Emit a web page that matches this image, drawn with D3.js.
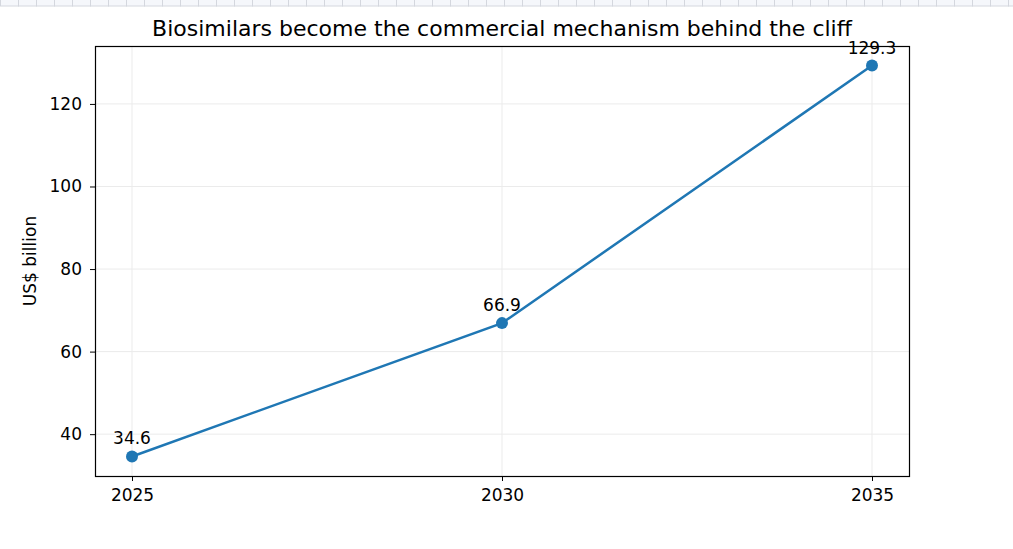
<!DOCTYPE html>
<html lang="en">
<head>
<meta charset="UTF-8">
<title>Biosimilars</title>
<script src="https://d3js.org/d3.v7.min.js"></script>
<style>
    body { margin: 0; background: #fff; }
    svg text { font-family: "DejaVu Sans", sans-serif; fill: #000; }
    .grid line { stroke: #ebebeb; stroke-width: 1px; }
</style>
</head>
<body>
<script>
    // chart data
    var years = [2025, 2030, 2035];
    var values = [34.6, 66.9, 129.3];
    var yTicks = [40, 60, 80, 100, 120];

    var width = 1013, height = 549;
    var m = { left: 95, right: 909, top: 46, bottom: 476 };

    var svg = d3.select("body").append("svg")
        .attr("width", width)
        .attr("height", height);

    // strip of cells along the top edge
    var cells = d3.range(0, width, 18);
    svg.selectAll(".cell")
        .data(cells)
        .enter()
        .append("rect")
        .attr("x", function (d) { return d + 0.5; })
        .attr("y", -1)
        .attr("width", 18)
        .attr("height", 7)
        .attr("fill", "#f5f7fb")
        .attr("stroke", "#d4d7de")
        .attr("stroke-width", 1);

    var pad = (years[2] - years[0]) * 0.05;
    var x = d3.scaleLinear()
        .domain([years[0] - pad, years[2] + pad])
        .range([m.left, m.right]);

    var span = d3.max(values) - d3.min(values);
    var y = d3.scaleLinear()
        .domain([d3.min(values) - span * 0.05, d3.max(values) + span * 0.05])
        .range([m.bottom, m.top]);

    // grid
    var grid = svg.append("g").attr("class", "grid");
    grid.selectAll(".gy")
        .data(yTicks)
        .enter()
        .append("line")
        .attr("x1", m.left).attr("x2", m.right)
        .attr("y1", function (d) { return y(d); })
        .attr("y2", function (d) { return y(d); });
    grid.selectAll(".gx")
        .data(years)
        .enter()
        .append("line")
        .attr("y1", m.top).attr("y2", m.bottom)
        .attr("x1", function (d) { return x(d); })
        .attr("x2", function (d) { return x(d); });

    // axes
    var xAxis = d3.axisBottom(x)
        .tickValues(years)
        .tickFormat(d3.format("d"))
        .tickSize(5)
        .tickPadding(8);
    var yAxis = d3.axisLeft(y)
        .tickValues(yTicks)
        .tickSize(5)
        .tickPadding(8);

    var gx = svg.append("g")
        .attr("transform", "translate(0," + m.bottom + ")")
        .call(xAxis);
    var gy = svg.append("g")
        .attr("transform", "translate(" + m.left + ",0)")
        .call(yAxis);
    [gx, gy].forEach(function (g) {
        g.select(".domain").remove();
        g.selectAll("text").style("font-size", "17px");
        g.selectAll("line").attr("stroke", "#000");
    });

    // frame
    svg.append("rect")
        .attr("x", m.left + 0.5).attr("y", m.top + 0.5)
        .attr("width", m.right - m.left).attr("height", m.bottom - m.top)
        .attr("fill", "none")
        .attr("stroke", "#000")
        .attr("stroke-width", 1.2);

    // line and markers
    var pts = years.map(function (d, i) { return [d, values[i]]; });
    var line = d3.line()
        .x(function (d) { return x(d[0]); })
        .y(function (d) { return y(d[1]); });

    svg.append("path")
        .datum(pts)
        .attr("d", line)
        .attr("fill", "none")
        .attr("stroke", "#1f77b4")
        .attr("stroke-width", 2.5);

    svg.selectAll(".dot")
        .data(pts)
        .enter()
        .append("circle")
        .attr("cx", function (d) { return x(d[0]); })
        .attr("cy", function (d) { return y(d[1]); })
        .attr("r", 6)
        .attr("fill", "#1f77b4");

    svg.selectAll(".lbl")
        .data(pts)
        .enter()
        .append("text")
        .attr("x", function (d) { return x(d[0]); })
        .attr("y", function (d) { return y(d[1]) - 12; })
        .attr("text-anchor", "middle")
        .style("font-size", "17px")
        .text(function (d) { return d[1].toFixed(1); });

    // titles
    svg.append("text")
        .attr("x", (m.left + m.right) / 2)
        .attr("y", 36)
        .attr("text-anchor", "middle")
        .style("font-size", "22px")
        .text("Biosimilars become the commercial mechanism behind the cliff");

    svg.append("text")
        .attr("transform", "translate(36," + ((m.top + m.bottom) / 2) + ") rotate(-90)")
        .attr("text-anchor", "middle")
        .style("font-size", "17px")
        .text("US$ billion");
</script>
</body>
</html>
